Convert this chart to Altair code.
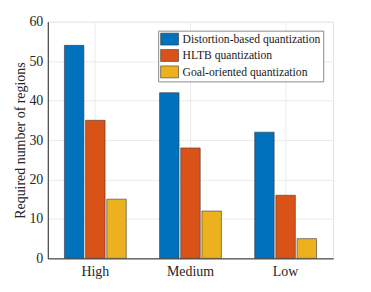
import altair as alt
import pandas as pd

categories = ["High", "Medium", "Low"]
series = ["Distortion-based quantization", "HLTB quantization", "Goal-oriented quantization"]
distortion = [54, 42, 32]
hltb = [35, 28, 16]
goal = [15, 12, 5]
colors = ["#0072BD", "#D95319", "#EDB120"]

rows = []
for i, c in enumerate(categories):
    for s, vals in zip(series, [distortion, hltb, goal]):
        rows.append({"level": c, "method": s, "value": vals[i]})
df = pd.DataFrame(rows)

font = "Liberation Serif"

chart = alt.Chart(df).mark_bar(stroke="#3a3a3a", strokeWidth=0.6).encode(
    x=alt.X("level:N", sort=categories, title=None,
            scale=alt.Scale(paddingInner=0.35, paddingOuter=0.175),
            axis=alt.Axis(grid=True, bandPosition=0.5, labelAngle=0, ticks=False,
                          labelPadding=6)),
    xOffset=alt.XOffset("method:N", sort=series, scale=alt.Scale(paddingInner=0.08)),
    y=alt.Y("value:Q", title="Required number of regions",
            scale=alt.Scale(domain=[0, 60], nice=False),
            axis=alt.Axis(values=[0, 10, 20, 30, 40, 50, 60], grid=True, ticks=False,
                          labelPadding=5, titlePadding=1)),
    color=alt.Color("method:N", sort=series,
                    scale=alt.Scale(domain=series, range=colors),
                    legend=alt.Legend(title=None, orient="none", legendX=111, legendY=9,
                                      symbolType="M-1.5,-1H1.5V1H-1.5Z", symbolSize=144,
                                      symbolStrokeColor="#3a3a3a", symbolStrokeWidth=0.6,
                                      symbolOpacity=1, symbolOffset=3,
                                      labelFont=font, labelFontSize=11.7, labelColor="#1a1a1a",
                                      labelOffset=6.5, rowPadding=1.5,
                                      padding=2, strokeColor="#8a8a8a", fillColor="white",
                                      labelLimit=300)),
).properties(
    width=287, height=238,
    autosize=alt.AutoSizeParams(type="none"),
    padding={"left": 40, "top": 13, "right": 30, "bottom": 25},
).configure_view(
    stroke="#e3e3e3", strokeWidth=1
).configure_legend(
    labelFont=font, labelFontSize=11.7
).configure_axis(
    labelFont=font, titleFont=font, labelFontSize=14, titleFontSize=14,
    labelColor="#262626", titleColor="#262626", titleFontWeight="normal",
    domainColor="#262626", domainWidth=1, gridColor="#ebebeb", gridWidth=1,
)

chart.save("out.html", embed_options={"renderer": "svg", "actions": False})
